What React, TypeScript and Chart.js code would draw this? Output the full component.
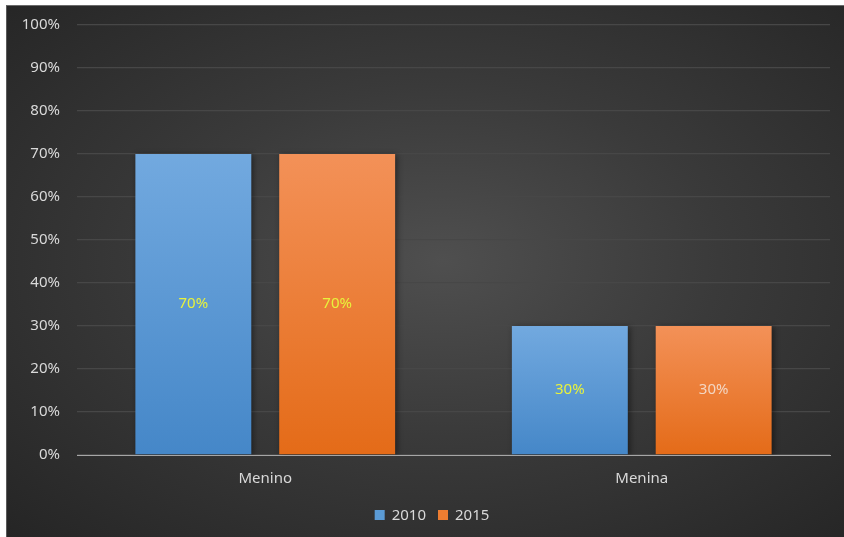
import React, { useEffect, useRef } from "react";
import { Chart, registerables } from "chart.js";

Chart.register(...registerables);

const categories = ["Menino", "Menina"];
const series2010 = [0.7, 0.3];
const series2015 = [0.7, 0.3];
const seriesNames = ["2010", "2015"];
const legendColors = ["#5b9bd5", "#ed7d31"];
const labelColors2010 = ["#e8f23c", "#e8f23c"];
const labelColors2015 = ["#e8f23c", "#f3d6c2"];

const FONT = "'Noto Sans', 'Open Sans', sans-serif";

function barGradient(ctx: any, top: string, bottom: string) {
  const chart = ctx.chart;
  const area = chart.chartArea;
  if (!area) return top;
  const y = chart.scales.y;
  const v = ctx.parsed ? ctx.parsed.y : 0;
  const yTop = y.getPixelForValue(v);
  const yBot = y.getPixelForValue(0);
  if (!isFinite(yTop) || !isFinite(yBot) || yTop === yBot) return top;
  const g = chart.ctx.createLinearGradient(0, yTop, 0, yBot);
  g.addColorStop(0, top);
  g.addColorStop(1, bottom);
  return g;
}

const shadowPlugin = {
  id: "barShadow",
  beforeDatasetsDraw(chart: any) {
    const c = chart.ctx;
    c.save();
    c.shadowColor = "rgba(0,0,0,0.45)";
    c.shadowBlur = 6;
    c.shadowOffsetX = 2;
    c.shadowOffsetY = 1;
  },
  afterDatasetsDraw(chart: any) {
    chart.ctx.restore();
  },
};

const labelPlugin = {
  id: "barLabels",
  afterDatasetsDraw(chart: any) {
    const c = chart.ctx;
    c.save();
    c.font = `15px ${FONT}`;
    c.textAlign = "center";
    c.textBaseline = "middle";
    chart.data.datasets.forEach((ds: any, di: number) => {
      const meta = chart.getDatasetMeta(di);
      meta.data.forEach((bar: any, i: number) => {
        const v = ds.data[i];
        const cy = (bar.y + bar.base) / 2;
        c.fillStyle = ds.labelColors[i];
        c.fillText(Math.round(v * 100) + "%", bar.x, cy);
      });
    });
    c.restore();
  },
};

const legendPlugin = {
  id: "customLegend",
  afterDraw(chart: any) {
    const c = chart.ctx;
    c.save();
    c.font = `15px ${FONT}`;
    c.textBaseline = "middle";
    c.textAlign = "left";
    const box = 10;
    const gapText = 7;
    const gapItem = 12;
    const items = chart.data.datasets.map((ds: any, i: number) => ({
      text: ds.label,
      color: legendColors[i],
      w: c.measureText(ds.label).width,
    }));
    const total = items.reduce(
      (s: number, it: any, i: number) => s + box + gapText + it.w + (i > 0 ? gapItem : 0),
      0
    );
    const cx = 425;
    const cy = 509;
    let x = cx - total / 2;
    items.forEach((it: any, i: number) => {
      if (i > 0) x += gapItem;
      c.fillStyle = it.color;
      c.fillRect(x, cy - box / 2, box, box);
      x += box + gapText;
      c.fillStyle = "#d9d9d9";
      c.fillText(it.text, x, cy + 1);
      x += it.w;
    });
    c.restore();
  },
};

export default function App() {
  const ref = useRef<HTMLCanvasElement>(null);
  useEffect(() => {
    if (!ref.current) return;
    const chart = new Chart(ref.current, {
      type: "bar",
      data: {
        labels: categories,
        datasets: [
          {
            label: seriesNames[0],
            data: series2010,
            backgroundColor: (ctx: any) => barGradient(ctx, "#72a9df", "#4587c8"),
            labelColors: labelColors2010,
            categoryPercentage: 0.764,
            barPercentage: 0.806,
          } as any,
          {
            label: seriesNames[1],
            data: series2015,
            backgroundColor: (ctx: any) => barGradient(ctx, "#f39158", "#e46b18"),
            labelColors: labelColors2015,
            categoryPercentage: 0.764,
            barPercentage: 0.806,
          } as any,
        ],
      },
      options: {
        animation: false,
        responsive: false,
        maintainAspectRatio: false,
        layout: { padding: { top: 19, right: 14, left: 0, bottom: 39 } },
        scales: {
          x: {
            grid: { display: false, drawTicks: false },
            border: { display: true, color: "#a6a6a6", width: 1 },
            ticks: {
              color: "#d9d9d9",
              font: { family: FONT, size: 15 },
              padding: 15,
            },
            afterFit: (s: any) => {
              s.height = 43;
            },
          },
          y: {
            min: 0,
            max: 1,
            grid: { color: "#474747", lineWidth: 1.3, drawTicks: false },
            border: { display: false },
            ticks: {
              stepSize: 0.1,
              color: "#d9d9d9",
              font: { family: FONT, size: 15 },
              padding: 17,
              callback: (v: any) => Math.round(Number(v) * 100) + "%",
            },
            afterFit: (s: any) => {
              s.width = 70;
              s.paddingTop = 0;
              s.paddingBottom = 0;
            },
          },
        },
        plugins: {
          legend: { display: false },
          tooltip: { enabled: false },
        },
      } as any,
      plugins: [shadowPlugin, labelPlugin, legendPlugin],
    });
    return () => chart.destroy();
  }, []);

  return (
    <div
      style={{
        position: "absolute",
        left: 0,
        top: 0,
        width: 844,
        height: 537,
        background: "#ffffff",
        overflow: "hidden",
      }}
    >
      <div
        style={{
          position: "absolute",
          left: 6,
          top: 5,
          width: 838,
          height: 532,
          background:
            "radial-gradient(ellipse farthest-corner at 52% 48%, #4f4f4f 0%, #3a3a3a 45%, #252525 100%)",
          borderTop: "1px solid #6a6a6a",
          borderLeft: "1px solid #5a5a5a",
          boxSizing: "border-box",
        }}
      >
        <canvas
          ref={ref}
          width={837}
          height={531}
          style={{ display: "block", width: 837, height: 531 }}
        />
      </div>
    </div>
  );
}
